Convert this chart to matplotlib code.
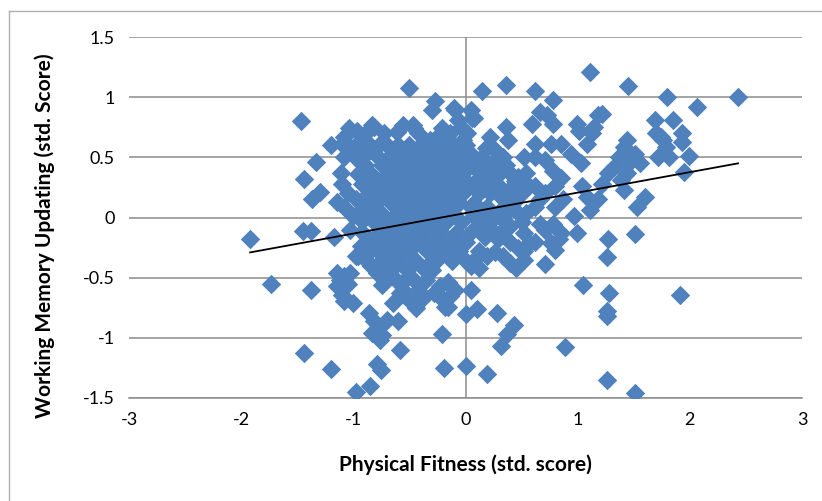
import matplotlib

matplotlib.use("Agg")
import matplotlib.pyplot as plt
from matplotlib.lines import Line2D

BLUE = "#4F81BD"
GRID = "#8c8c8c"

# physical fitness (x) / working memory updating (y)
fitness = [
    # far left and outer points
    -1.92, -1.73, -1.47, -1.44, -1.45, -1.38, -1.37, -1.33, -1.30, -1.38,
    -1.44, -1.20, -1.20, -1.11, -1.17, -0.98, -0.85, -0.79, -0.75, -0.58,
    -0.50, -0.27, -0.30, -0.19, 0.00, 0.19, 0.15, 0.36, 0.62, 0.78,
    1.11, 1.45, 1.80, 2.06, 2.43, 1.99, 1.95, 1.91, 1.93, 1.93,
    1.85, 1.69, 1.51, 1.53, 1.60, 1.56, 1.27, 1.26, 1.28, 1.26,
    1.26, 1.26, 1.51, 1.05, 0.89, 0.32, 0.37, 0.43, 0.28, 0.10,
    0.00, 0.05, -0.21, -0.16,
    # left cluster
    -1.04, -0.97, -1.08, -1.10, -1.03, -0.93, -0.89, -0.82, -0.73, -0.76,
    -1.08, -0.96, -0.89, -1.10, -1.05, -1.15, -1.08, -0.98, -0.93, -1.00,
    -0.93, -0.86, -0.89, -1.03, -0.98, -0.93, -0.89, -0.84, -0.79, -0.86,
    -1.15, -1.12, -1.08, -1.15, -1.10, -1.08, -1.00, -1.05, -1.03,
    # lower left tail
    -0.86, -0.82, -0.83, -0.77, -0.74, -0.76, -0.70, -0.60, -0.65, -0.58,
    -0.51, -0.44, -0.54, -0.42, -0.35, -0.32, -0.37, -0.39, -0.28, -0.23,
    -0.21, -0.18, -0.14, -0.09, -0.16,
    # right of zero, lower
    0.05, 0.12, 0.08, 0.19, 0.26, 0.33, 0.40, 0.45, 0.52, 0.47,
    0.57, 0.52, 0.71, 0.76, 0.80, 0.83, 0.85, 0.99, 0.97, 0.71,
    0.66, 0.78, 0.29, 0.24, 0.17, 0.12, 0.33, 0.40, 0.47,
    # right side, upper
    0.59, 0.66, 0.73, 0.78, 0.62, 0.76, 0.85, 0.52, 0.71, 0.78,
    0.85, 0.80, 0.71, 0.87, 0.80, 0.66, 0.94, 1.03, 0.99, 1.01,
    1.08, 1.15, 1.18, 1.22, 1.13, 1.04, 1.08, 1.11, 1.18, 1.22,
    1.27, 1.32, 1.37, 1.41, 1.44, 1.39, 1.44, 1.41, 1.46, 1.51,
    1.72, 1.74, 1.79, 1.76, 1.81, 1.70,
    # centre right
    0.08, 0.05, -0.09, -0.07, 0.22, 0.36, 0.38, 0.26, 0.33, 0.15,
    0.19, 0.29, 0.40, 0.47, 0.54, 0.57, 0.50, 0.45, 0.33, 0.24,
    0.10, 0.08, 0.12, 0.19, 0.29, 0.05, 0.08, 0.54, 0.62, 0.62,
    0.62, 0.20, 0.30, 0.42, 0.14, 0.26, 0.36, 0.18, 0.44,
    # top edge of the core
    -0.56, -0.46, -0.61, -0.42, -0.21, -0.14, -0.04, -0.25, -0.32, -0.02,
    -0.83, -0.47, -0.10, 0.01, 0.06,
    # dense core
    -0.95, -0.85, -0.70, -0.60, -0.50, -0.40, -0.30, -0.20, -0.10, 0.00,
    -0.98, -0.80, -0.66, -0.55, -0.45, -0.36, -0.26, -0.15, -0.05, 0.06,
    -0.90, -0.74, -0.62, -0.50, -0.41, -0.31, -0.20, -0.09, 0.02, 0.14,
    -0.96, -0.84, -0.70, -0.57, -0.46, -0.36, -0.25, -0.14, -0.03, 0.20,
    -0.92, -0.78, -0.64, -0.52, -0.40, -0.30, -0.19, -0.08, 0.03, 0.16, 0.28,
    -0.86, -0.73, -0.60, -0.47, -0.35, -0.24, -0.12, -0.02, 0.22, 0.36,
    -0.80, -0.66, -0.54, -0.42, -0.30, -0.18, -0.06, 0.08, 0.42,
    -0.75, -0.60, -0.48, -0.36, -0.22, -0.11, 0.14, 0.36,
    -0.82, -0.68, -0.55, -0.42, -0.30, -0.17, -0.04, 0.22, 0.50,
    -0.92, -0.76, -0.62, -0.49, -0.36, -0.22, -0.08, 0.05, 0.32,
    -0.84, -0.70, -0.56, -0.42, -0.28, -0.14, 0.00, 0.40, 0.62,
    -0.78, -0.64, -0.50, -0.34, -0.20, -0.06, 0.12, 0.52,
    -0.72, -0.58, -0.44, -0.26, -0.12, 0.00,
    -0.66, -0.52, -0.30,
    -0.62, -0.46,
    # gap fillers in the core
    -0.88, -0.68, -0.44, -0.22, -0.58, -0.34, -0.12, -0.80, -0.52, -0.28,
    -0.70, -0.40, -0.16, -0.90, -0.62, -0.46, -0.26, -0.72, -0.54, -0.38,
    -0.80, -0.66, -0.96, -0.74, -0.56,
]
memory = [
    -0.18, -0.55, 0.80, 0.32, -0.11, -0.11, 0.15, 0.46, 0.21, -0.60,
    -1.13, -1.26, 0.60, 0.37, -0.16, -1.45, -1.40, -1.22, -1.27, -1.10,
    1.08, 0.97, 0.89, -1.25, -1.23, -1.30, 1.05, 1.10, 1.05, 0.98,
    1.21, 1.09, 1.00, 0.92, 1.00, 0.51, 0.38, -0.64, 0.70, 0.63,
    0.81, 0.81, -0.14, 0.09, 0.17, 0.45, -0.18, -0.33, -0.63, -0.78,
    -0.82, -1.35, -1.46, -0.56, -1.08, -1.07, -0.97, -0.89, -0.79, -0.76,
    -0.80, -0.60, -0.97, -0.74,
    0.74, 0.72, 0.67, 0.61, 0.59, 0.64, 0.70, 0.75, 0.70, 0.61,
    0.50, 0.48, 0.53, 0.28, 0.20, 0.13, 0.09, 0.15, 0.06, 0.01,
    -0.02, 0.04, 0.12, -0.10, -0.32, -0.24, -0.35, -0.40, -0.46, -0.29,
    -0.46, -0.52, -0.49, -0.57, -0.64, -0.69, -0.71, -0.55, -0.46,
    -0.79, -0.86, -0.96, -0.91, -0.98, -1.02, -0.85, -0.86, -0.71, -0.63,
    -0.68, -0.75, -0.52, -0.60, -0.52, -0.38, -0.43, -0.68, -0.63, -0.57,
    -0.68, -0.74, -0.65, -0.60, -0.54,
    -0.40, -0.42, -0.35, -0.32, -0.29, -0.32, -0.38, -0.42, -0.35, -0.25,
    -0.21, -0.13, -0.39, -0.21, -0.27, -0.18, -0.13, -0.13, 0.01, -0.10,
    -0.05, -0.05, -0.18, -0.10, -0.16, -0.07, -0.02, -0.07, 0.04,
    0.78, 0.88, 0.85, 0.78, 0.61, 0.61, 0.61, 0.50, 0.48, 0.39,
    0.33, 0.26, 0.20, 0.15, 0.09, 0.15, 0.53, 0.45, 0.78, 0.72,
    0.61, 0.75, 0.85, 0.86, 0.70, 0.26, 0.17, 0.06, 0.15, 0.28,
    0.37, 0.42, 0.50, 0.59, 0.64, 0.31, 0.37, 0.23, 0.45, 0.53,
    0.50, 0.67, 0.59, 0.64, 0.50, 0.70,
    0.83, 0.89, 0.89, 0.81, 0.67, 0.75, 0.64, 0.56, 0.50, 0.50,
    0.42, 0.45, 0.37, 0.34, 0.37, 0.26, 0.20, 0.15, 0.15, 0.26,
    0.31, 0.42, 0.20, 0.09, 0.04, 0.09, 0.01, 0.04, 0.09, 0.26,
    0.50, 0.34, 0.36, 0.26, 0.24, 0.48, 0.44, 0.58, 0.30,
    0.77, 0.74, 0.71, 0.70, 0.74, 0.70, 0.75, 0.67, 0.64, 0.64,
    0.77, 0.77, 0.91, 0.70, 0.83,
    0.60, 0.60, 0.60, 0.60, 0.60, 0.60, 0.60, 0.60, 0.60, 0.60,
    0.52, 0.52, 0.52, 0.52, 0.52, 0.52, 0.52, 0.52, 0.52, 0.52,
    0.44, 0.44, 0.44, 0.44, 0.44, 0.44, 0.44, 0.44, 0.44, 0.44,
    0.36, 0.36, 0.36, 0.36, 0.36, 0.36, 0.36, 0.36, 0.36, 0.36,
    0.28, 0.28, 0.28, 0.28, 0.28, 0.28, 0.28, 0.28, 0.28, 0.28, 0.28,
    0.20, 0.20, 0.20, 0.20, 0.20, 0.20, 0.20, 0.20, 0.20, 0.20,
    0.12, 0.12, 0.12, 0.12, 0.12, 0.12, 0.12, 0.12, 0.12,
    0.04, 0.04, 0.04, 0.04, 0.04, 0.04, 0.04, 0.04,
    -0.04, -0.04, -0.04, -0.04, -0.04, -0.04, -0.04, -0.04, -0.04,
    -0.12, -0.12, -0.12, -0.12, -0.12, -0.12, -0.12, -0.12, -0.12,
    -0.20, -0.20, -0.20, -0.20, -0.20, -0.20, -0.20, -0.20, -0.20,
    -0.28, -0.28, -0.28, -0.28, -0.28, -0.28, -0.28, -0.28,
    -0.36, -0.36, -0.36, -0.36, -0.36, -0.36,
    -0.44, -0.44, -0.44,
    -0.52, -0.52,
    0.56, 0.48, 0.56, 0.40, 0.40, 0.32, 0.24, 0.32, 0.16, 0.08,
    0.24, 0.00, 0.16, 0.00, -0.08, -0.08, 0.08, -0.16, -0.24, -0.24,
    -0.40, -0.48, -0.32, -0.56, -0.60,
]

# linear trend line end points
trend_x = [-1.92, 2.43]
trend_y = [-0.29, 0.45]

x_ticks = [-3, -2, -1, 0, 1, 2, 3]
y_ticks = [-1.5, -1, -0.5, 0, 0.5, 1, 1.5]

plt.rcParams["font.family"] = ["Lato", "DejaVu Sans"]

fig = plt.figure(figsize=(8.22, 5.01), dpi=100)
ax = fig.add_axes([129 / 822, 1 - 398 / 501, 673 / 822, 361 / 501])

# chart area border
fig.add_artist(Line2D([9 / 822, 9 / 822], [0, 1 - 11 / 501],
                      transform=fig.transFigure, color="#b0b0b0", lw=1.0))
fig.add_artist(Line2D([9 / 822, 1], [1 - 11 / 501, 1 - 11 / 501],
                      transform=fig.transFigure, color="#b0b0b0", lw=1.0))

ax.scatter(fitness, memory, marker="D", s=98, color=BLUE, linewidths=0, zorder=3)
ax.plot(trend_x, trend_y, color="black", lw=1.3, zorder=4)

ax.set_xlim(-3, 3)
ax.set_ylim(-1.5, 1.5)
ax.set_xticks(x_ticks)
ax.set_yticks(y_ticks)
ax.set_xticklabels([f"{t:g}" for t in x_ticks])
ax.set_yticklabels([f"{t:g}" for t in y_ticks])
ax.tick_params(length=0, labelsize=13, pad=10)
ax.grid(True, axis="y", color=GRID, lw=1.1, zorder=0)
ax.axvline(0, color=GRID, lw=1.1, zorder=1)
for side in ["top", "right", "left"]:
    ax.spines[side].set_visible(False)
ax.spines["bottom"].set_color(GRID)
ax.spines["bottom"].set_linewidth(1.1)
ax.set_axisbelow(True)

ax.set_xlabel("Physical Fitness (std. score)", fontsize=15, fontweight="bold")
ax.set_ylabel("Working Memory Updating (std. Score)", fontsize=15, fontweight="bold")
ax.xaxis.set_label_coords(0.5, -0.186)
ax.yaxis.set_label_coords(-0.125, 0.45)
ax.xaxis.label.set_va("center")
ax.yaxis.label.set_va("center")

fig.savefig("out.png", dpi=100)
